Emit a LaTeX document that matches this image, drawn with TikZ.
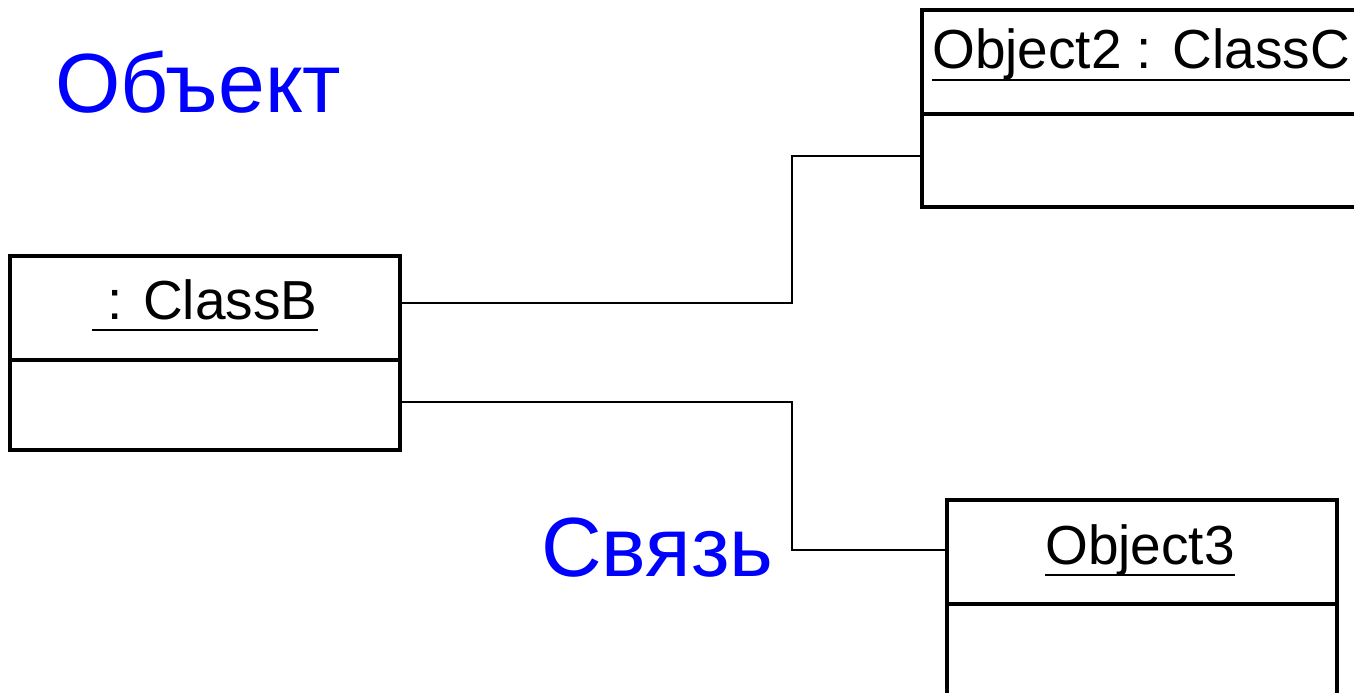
\documentclass[tikz,border=0pt]{standalone}
\usepackage{fontspec}
\setmainfont{Liberation Sans}
\definecolor{lblblue}{RGB}{0,0,255}
\tikzset{
  objbox/.style={draw=black, line width=4.5pt, rectangle, inner sep=0pt, fill=white},
  boxline/.style={draw=black, line width=4.5pt},
  link/.style={draw=black, line width=2.3pt},
  objtext/.style={inner sep=0pt, anchor=base west, font=\fontsize{55}{66}\selectfont},
  uline/.style={draw=black, line width=2.4pt},
  bluelabel/.style={inner sep=0pt, anchor=base west, text=lblblue, font=\fontsize{84}{100}\selectfont}
}
\begin{document}
\begin{tikzpicture}[x=1pt, y=-1pt]
\useasboundingbox (0,0) rectangle (1354,693);
\clip (0,0) rectangle (1354,693);
\fill[white] (0,0) rectangle (1354,693);

% boxes
\node[objbox, minimum width=390pt, minimum height=194pt] (b) at (205,353) {};
\node[objbox, minimum width=478pt, minimum height=197pt] (o2) at (1161,108.5) {};
\node[objbox, minimum width=390pt, minimum height=200pt] (o3) at (1142,600) {};

% dividers
\draw[boxline] (b.west |- 0,360) -- (b.east |- 0,360);
\draw[boxline] (o2.west |- 0,114) -- (o2.east |- 0,114);
\draw[boxline] (o3.west |- 0,604) -- (o3.east |- 0,604);

% texts
\node[objtext] (tb) at (92,319) {\ : ClassB};
\draw[uline] ([yshift=-11pt]tb.base west) -- ([yshift=-11pt]tb.base east);
\node[objtext] (t2) at (932,69) {Object2 : ClassC};
\draw[uline] ([yshift=-11pt]t2.base west) -- ([yshift=-11pt]t2.base east);
\node[objtext] (t3) at (1045,564) {Object3};
\draw[uline] ([yshift=-11pt]t3.base west) -- ([yshift=-11pt]t3.base east);

% connectors
\draw[link] (b.east |- 0,303) -| (792,156) -- (o2.west |- 0,156);
\draw[link] (b.east |- 0,402) -| (792,550) -- (o3.west |- 0,550);

% labels
\node[bluelabel] (lobj) at (55,112) {Объект};
\node[bluelabel] (llink) at (541,576) {Связь};
\end{tikzpicture}
\end{document}
